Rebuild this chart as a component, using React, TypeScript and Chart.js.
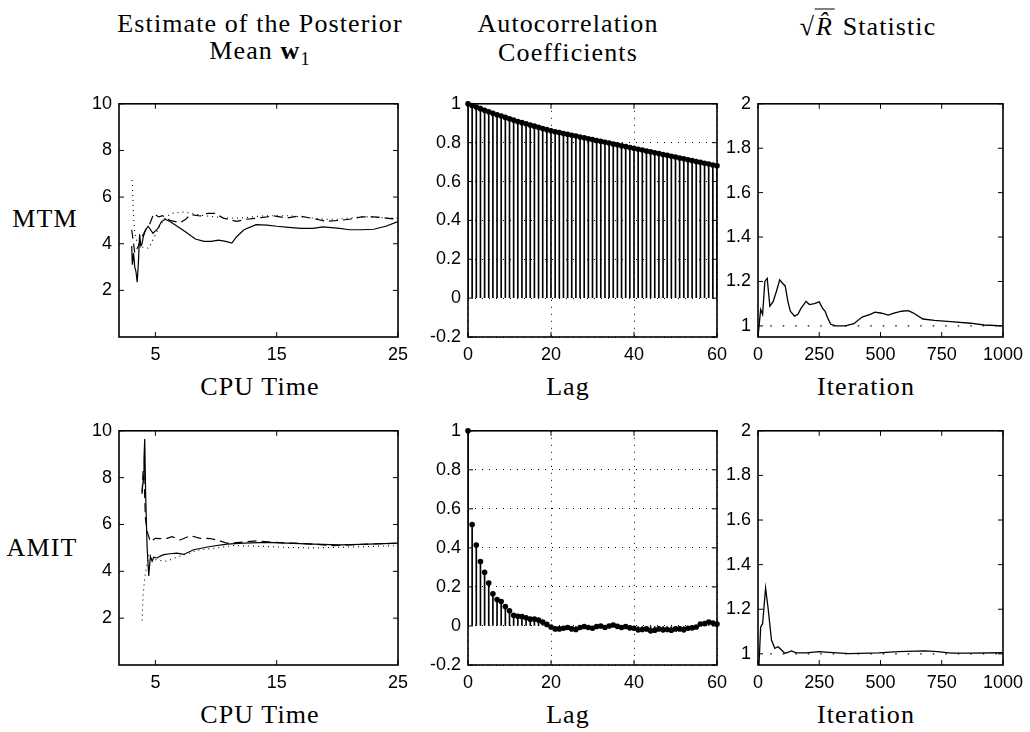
import React, { useEffect, useRef } from "react";
import { Chart, registerables } from "chart.js";
Chart.register(...registerables);

// ---------------- data ----------------
// Top-left: MTM, estimate of posterior mean vs CPU time
const mtmSolidX = [3.05, 3.1, 3.2, 3.3, 3.4, 3.5, 3.6, 3.7, 3.8, 3.9, 4.0, 4.2, 4.4, 4.6, 4.8, 5.0, 5.2, 5.5, 5.8, 6.2, 6.8, 7.5, 8.3, 9.0, 9.6, 10.2, 10.8, 11.3, 11.7, 12.3, 13.3, 14.2, 15.0, 16.0, 17.0, 18.0, 18.8, 20.2, 21, 22, 23, 24, 25];
const mtmSolidY = [3.9, 3.1, 3.6, 3.0, 2.8, 2.35, 3.2, 4.4, 3.9, 4.0, 4.3, 4.6, 4.75, 4.6, 4.45, 4.55, 4.65, 4.95, 5.05, 4.95, 4.75, 4.5, 4.2, 4.1, 4.1, 4.15, 4.1, 4.03, 4.3, 4.6, 4.82, 4.8, 4.75, 4.7, 4.66, 4.66, 4.72, 4.66, 4.6, 4.6, 4.62, 4.75, 4.95];
const mtmDashX = [3.05, 3.3, 3.6, 3.9, 4.2, 4.5, 4.86, 5.27, 5.6, 6.2, 7.05, 7.5, 7.88, 8.7, 9.3, 9.9, 10.6, 11.7, 12.5, 13.4, 14.2, 14.7, 15.8, 16.9, 18, 19.1, 20.2, 21, 22, 23, 24, 25];
const mtmDashY = [4.6, 3.6, 3.9, 4.3, 4.6, 4.8, 5.29, 5.15, 5.2, 5.0, 4.9, 5.05, 5.25, 5.19, 5.3, 5.3, 5.1, 4.96, 5.05, 5.1, 5.15, 5.2, 5.1, 5.19, 5.08, 4.96, 5.0, 5.05, 5.15, 5.15, 5.1, 5.05];
const mtmDotX = [3.08, 3.12, 3.16, 3.2, 3.25, 3.4, 3.7, 4.0, 4.45, 4.86, 5.3, 5.8, 6.3, 6.8, 7.33, 8, 9, 10, 11, 12, 13, 14, 15, 16, 17, 18, 19, 20, 21, 22, 23, 24, 25];
const mtmDotY = [6.73, 6.3, 5.7, 5.2, 4.7, 4.2, 3.9, 3.85, 3.8, 4.24, 4.7, 5.1, 5.3, 5.33, 5.36, 5.3, 5.2, 5.15, 5.1, 5.1, 5.15, 5.2, 5.2, 5.2, 5.15, 5.1, 5.05, 5.05, 5.1, 5.15, 5.15, 5.1, 5.1];

// Bottom-left: AMIT
const amitSolidX = [3.9, 4.0, 4.06, 4.12, 4.2, 4.32, 4.45, 4.59, 4.73, 4.86, 5.14, 5.41, 5.68, 6.2, 6.78, 7.33, 8.15, 9.52, 10.9, 12.26, 14.18, 15.82, 18.0, 20.2, 22, 25];
const amitSolidY = [7.4, 7.9, 8.8, 9.65, 7.2, 5.0, 3.8, 4.64, 4.43, 4.6, 4.57, 4.65, 4.71, 4.75, 4.78, 4.72, 4.92, 5.06, 5.16, 5.2, 5.24, 5.2, 5.16, 5.13, 5.15, 5.2];
const amitDashX = [3.9, 3.99, 4.1, 4.18, 4.32, 4.59, 5.0, 5.41, 5.96, 6.37, 7.05, 7.88, 8.7, 9.52, 10.07, 10.9, 11.99, 13.36, 14.73, 16.37, 18.0, 19.66, 22, 25];
const amitDashY = [7.3, 8.3, 7.5, 6.25, 5.7, 5.27, 5.41, 5.4, 5.41, 5.48, 5.34, 5.52, 5.41, 5.4, 5.34, 5.2, 5.24, 5.3, 5.24, 5.2, 5.16, 5.1, 5.15, 5.2];
const amitDotX = [3.9, 3.99, 4.1, 4.2, 4.32, 4.45, 4.6, 5.0, 5.5, 5.96, 6.5, 7.33, 8.7, 10.07, 11.44, 12.8, 14.18, 15.82, 18.0, 19.66, 22, 25];
const amitDotY = [1.9, 3.0, 3.6, 4.0, 4.3, 4.7, 4.55, 4.5, 4.45, 4.43, 4.55, 4.7, 4.92, 5.0, 5.1, 5.08, 5.06, 5.02, 5.0, 5.02, 5.05, 5.1];

// Middle: autocorrelation coefficients by lag
const lags = [0, 1, 2, 3, 4, 5, 6, 7, 8, 9, 10, 11, 12, 13, 14, 15, 16, 17, 18, 19, 20, 21, 22, 23, 24, 25, 26, 27, 28, 29, 30, 31, 32, 33, 34, 35, 36, 37, 38, 39, 40, 41, 42, 43, 44, 45, 46, 47, 48, 49, 50, 51, 52, 53, 54, 55, 56, 57, 58, 59, 60];
const mtmAcf = [1, 0.991, 0.983, 0.975, 0.967, 0.959, 0.951, 0.944, 0.937, 0.93, 0.923, 0.916, 0.909, 0.903, 0.897, 0.891, 0.885, 0.879, 0.873, 0.867, 0.861, 0.856, 0.852, 0.847, 0.843, 0.838, 0.834, 0.829, 0.825, 0.82, 0.816, 0.811, 0.807, 0.802, 0.798, 0.793, 0.789, 0.784, 0.78, 0.775, 0.771, 0.766, 0.762, 0.757, 0.753, 0.748, 0.744, 0.739, 0.735, 0.73, 0.726, 0.721, 0.717, 0.712, 0.708, 0.703, 0.699, 0.694, 0.69, 0.685, 0.681];
const amitAcf = [1, 0.52, 0.415, 0.33, 0.275, 0.22, 0.165, 0.135, 0.125, 0.1, 0.078, 0.055, 0.05, 0.048, 0.042, 0.035, 0.036, 0.03, 0.02, 0.008, -0.005, -0.015, -0.015, -0.012, -0.008, -0.015, -0.018, -0.008, -0.003, -0.008, -0.012, -0.003, 0.0, -0.008, 0.0, 0.005, -0.002, -0.008, -0.003, -0.01, -0.012, -0.02, -0.018, -0.015, -0.025, -0.022, -0.015, -0.02, -0.018, -0.022, -0.015, -0.015, -0.02, -0.012, -0.01, -0.005, 0.01, 0.012, 0.02, 0.015, 0.01];

// Right: sqrt(R-hat) by iteration
const mtmRhatX = [0, 10.8, 18.8, 28, 37.6, 48.4, 62, 75, 88.7, 102, 111, 122, 132, 149, 163, 176, 196, 210, 230, 250, 263, 274, 284, 297, 317, 357, 391, 425, 458, 478, 505, 532, 552, 586, 613, 633, 673, 720, 787, 868, 922, 1000];
const mtmRhatY = [0.95, 1.074, 1.052, 1.2, 1.214, 1.089, 1.11, 1.155, 1.207, 1.19, 1.18, 1.11, 1.066, 1.044, 1.052, 1.08, 1.11, 1.096, 1.1, 1.108, 1.08, 1.066, 1.037, 1.007, 1.0, 1.0, 1.01, 1.04, 1.052, 1.062, 1.057, 1.049, 1.056, 1.066, 1.069, 1.059, 1.031, 1.025, 1.019, 1.012, 1.004, 1.0];
const amitRhatX = [4, 10.8, 18.8, 31, 41.7, 55, 68.5, 82, 95, 109, 122, 136, 156, 196, 250, 290, 371, 492, 572, 680, 734, 788, 868, 1000];
const amitRhatY = [0.95, 1.12, 1.136, 1.295, 1.2, 1.062, 1.025, 1.032, 1.018, 1.003, 1.007, 1.013, 1.004, 1.004, 1.01, 1.007, 1.001, 1.004, 1.01, 1.013, 1.01, 1.003, 1.003, 1.005];
const refX = [50, 1000];
const refY = [1, 1];

// tick values
const cpuTicks = [5, 15, 25];
const meanTicks = [2, 4, 6, 8, 10];
const lagTicks = [0, 20, 40, 60];
const acfTicks = [-0.2, 0, 0.2, 0.4, 0.6, 0.8, 1];
const iterTicks = [0, 250, 500, 750, 1000];
const rhatTicks = [1, 1.2, 1.4, 1.6, 1.8, 2];

// text
const colTitles = [["Estimate of the Posterior", "Mean"], ["Autocorrelation", "Coefficients"], ["Statistic"]];
const xTitles = ["CPU Time", "Lag", "Iteration"];
const rowTitles = ["MTM", "AMIT"];

// ---------------- layout ----------------
const PAD_L = 62, PAD_R = 24, PAD_T = 14, PAD_B = 36;
const COLS = [
  { left: 119, width: 279 },
  { left: 468, width: 249 },
  { left: 758, width: 248 },
];
const ROWS = [
  { top: 100, height: 237 },
  { top: 427, height: 238 },
];

const zip = (xs: number[], ys: number[]) => xs.map((x, i) => ({ x, y: ys[i] }));
const fmt = (v: number) => String(parseFloat(Number(v).toFixed(2)));

const boxPlugin = {
  id: "boxTicks",
  afterDatasetsDraw(chart: any) {
    const { ctx, chartArea } = chart;
    const { left, right, top, bottom } = chartArea;
    const xs = chart.scales.x, ys = chart.scales.y;
    ctx.save();
    ctx.strokeStyle = "#000";
    ctx.lineWidth = 1;
    const len = 5;
    ctx.beginPath();
    xs.ticks.forEach((t: any) => {
      const px = xs.getPixelForValue(t.value);
      ctx.moveTo(px, bottom); ctx.lineTo(px, bottom - len);
      ctx.moveTo(px, top); ctx.lineTo(px, top + len);
    });
    ys.ticks.forEach((t: any) => {
      const py = ys.getPixelForValue(t.value);
      ctx.moveTo(left, py); ctx.lineTo(left + len, py);
      ctx.moveTo(right, py); ctx.lineTo(right - len, py);
    });
    ctx.stroke();
    ctx.lineWidth = 1.6;
    ctx.strokeRect(left, top, right - left, bottom - top);
    ctx.restore();
  },
};

function axis(min: number, max: number, ticks: number[], isX: boolean, grid: boolean) {
  return {
    type: "linear",
    min, max, bounds: "data", offset: false,
    afterBuildTicks: (s: any) => { s.ticks = ticks.map((v) => ({ value: v })); },
    afterFit: (s: any) => { if (isX) s.height = PAD_B; else s.width = PAD_L; },
    grid: { display: grid, drawTicks: false, color: "#000", lineWidth: 1, offset: false },
    border: { display: false, dash: [1, 6] },
    ticks: {
      color: "#000",
      font: { family: "'Liberation Sans', Arial, sans-serif", size: 18 },
      padding: isX ? 7 : 7,
      autoSkip: false, maxRotation: 0, minRotation: 0,
      callback: (v: any) => fmt(v),
    },
  };
}

function baseOptions(x: any, y: any) {
  return {
    responsive: false,
    animation: false,
    events: [],
    layout: { padding: { top: PAD_T, right: PAD_R, left: 0, bottom: 0 } },
    plugins: { legend: { display: false }, tooltip: { enabled: false }, title: { display: false } },
    scales: { x, y },
  };
}

const lineDs = (xs: number[], ys: number[], dash: number[], w = 1.2) => ({
  type: "line",
  data: zip(xs, ys),
  borderColor: "#000",
  borderWidth: w,
  borderDash: dash,
  pointRadius: 0,
  tension: 0,
  fill: false,
});

function meanConfig(sx: number[], sy: number[], dx: number[], dy: number[], ox: number[], oy: number[]) {
  return {
    type: "line",
    data: {
      datasets: [
        lineDs(sx, sy, []),
        lineDs(dx, dy, [9, 5]),
        lineDs(ox, oy, [1, 4], 1.1),
      ],
    },
    options: baseOptions(axis(2, 25, cpuTicks, true, false), axis(0, 10, meanTicks, false, false)),
    plugins: [boxPlugin],
  };
}

function acfConfig(vals: number[]) {
  return {
    type: "scatter",
    data: {
      datasets: [
        { type: "scatter", data: zip(lags, vals), pointRadius: 2.8, pointBackgroundColor: "#000", pointBorderWidth: 0, clip: false },
        { type: "bar", data: zip(lags, vals), backgroundColor: "#000", barThickness: 1, borderWidth: 0, grouped: false },
      ],
    },
    options: baseOptions(axis(0, 60, lagTicks, true, true), axis(-0.2, 1, acfTicks, false, true)),
    plugins: [boxPlugin],
  };
}

function rhatConfig(xs: number[], ys: number[]) {
  return {
    type: "line",
    data: {
      datasets: [
        lineDs(xs, ys, [], 1.3),
        lineDs(refX, refY, [1.5, 11], 1.1),
      ],
    },
    options: baseOptions(axis(0, 1000, iterTicks, true, false), axis(0.95, 2, rhatTicks, false, false)),
    plugins: [boxPlugin],
  };
}

function Panel({ col, row, build }: { col: number; row: number; build: () => any }) {
  const ref = useRef<HTMLCanvasElement>(null);
  const c = COLS[col], r = ROWS[row];
  const w = c.width + PAD_L + PAD_R;
  const h = r.height + PAD_T + PAD_B;
  useEffect(() => {
    const chart = new Chart(ref.current as HTMLCanvasElement, build());
    return () => chart.destroy();
  }, []);
  return (
    <canvas
      ref={ref}
      width={w}
      height={h}
      style={{ position: "absolute", left: c.left - PAD_L, top: r.top - PAD_T, width: w, height: h }}
    />
  );
}

function Label({ x, y, children, size = 26 }: { x: number; y: number; children: any; size?: number }) {
  return (
    <div
      style={{
        position: "absolute", left: x, top: y, transform: "translate(-50%, -50%)",
        whiteSpace: "nowrap", fontFamily: "'Liberation Serif', 'Times New Roman', serif",
        fontSize: size, lineHeight: 1, color: "#000", letterSpacing: "1.1px",
      }}
    >
      {children}
    </div>
  );
}

export default function App() {
  const titleX = [260, 568, 868];
  const xlabX = [260, 568, 866];
  const xlabY = [387, 715];
  return (
    <div style={{ position: "fixed", left: 0, top: 0, width: 1030, height: 732, background: "#fff", overflow: "hidden" }}>
      <Label x={titleX[0]} y={24}>{colTitles[0][0]}</Label>
      <Label x={titleX[0]} y={53}>
        {colTitles[0][1]} <b>w</b><sub style={{ fontSize: "70%", verticalAlign: "-0.3em" }}>1</sub>
      </Label>
      <Label x={titleX[1]} y={24}>{colTitles[1][0]}</Label>
      <Label x={titleX[1]} y={53}>{colTitles[1][1]}</Label>
      <Label x={titleX[2]} y={24}>
        <span>√</span>
        <span style={{ display: "inline-block", borderTop: "1.5px solid #000", fontStyle: "italic", paddingLeft: 1, paddingRight: 2, paddingTop: 4 }}>R̂</span>{" "}
        {colTitles[2][0]}
      </Label>

      <Label x={45} y={219}>{rowTitles[0]}</Label>
      <Label x={42} y={548}>{rowTitles[1]}</Label>

      {xlabY.map((y, ri) =>
        xTitles.map((t, ci) => (
          <Label key={`${ri}-${ci}`} x={xlabX[ci]} y={y}>{t}</Label>
        ))
      )}

      <Panel col={0} row={0} build={() => meanConfig(mtmSolidX, mtmSolidY, mtmDashX, mtmDashY, mtmDotX, mtmDotY)} />
      <Panel col={1} row={0} build={() => acfConfig(mtmAcf)} />
      <Panel col={2} row={0} build={() => rhatConfig(mtmRhatX, mtmRhatY)} />
      <Panel col={0} row={1} build={() => meanConfig(amitSolidX, amitSolidY, amitDashX, amitDashY, amitDotX, amitDotY)} />
      <Panel col={1} row={1} build={() => acfConfig(amitAcf)} />
      <Panel col={2} row={1} build={() => rhatConfig(amitRhatX, amitRhatY)} />
    </div>
  );
}
